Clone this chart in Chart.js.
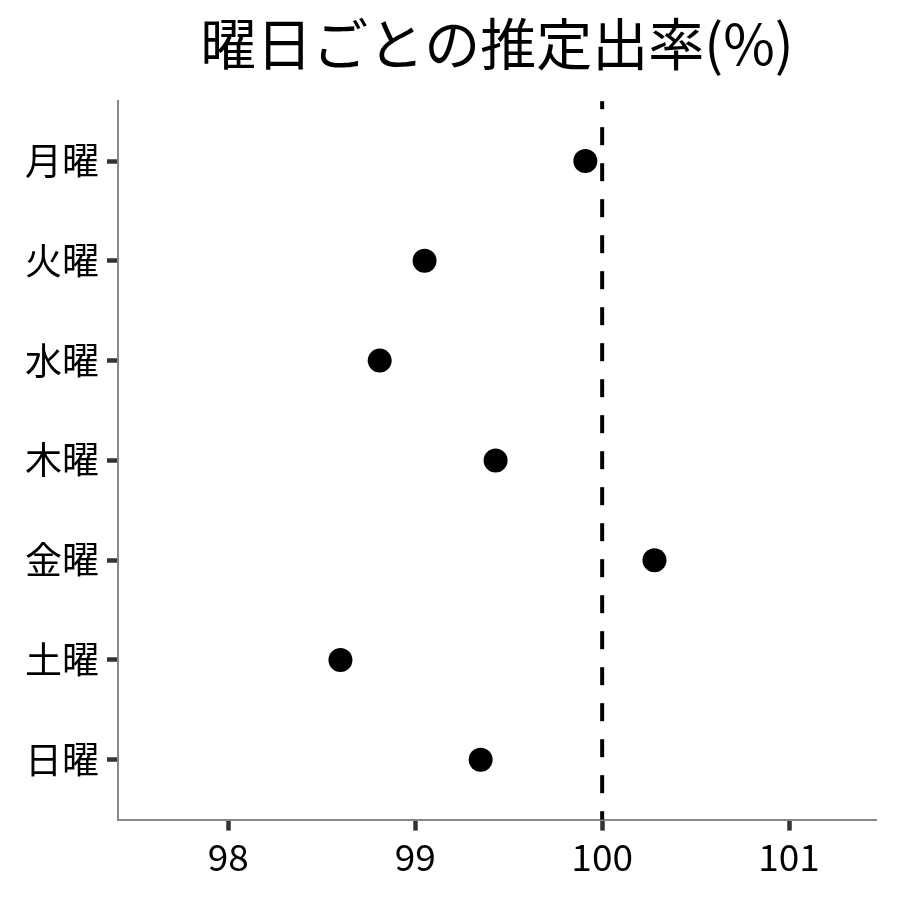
<!DOCTYPE html>
<html>
<head>
<meta charset="utf-8">
<script src="https://cdn.jsdelivr.net/npm/chart.js@4/dist/chart.umd.min.js"></script>
<style>
  html, body { margin: 0; padding: 0; background: #fff; }
  #wrap { width: 900px; height: 900px; }
</style>
</head>
<body>
<div id="wrap"><canvas id="rateChart" width="900" height="900"></canvas></div>
<script>
// data
const days = ["月曜", "火曜", "水曜", "木曜", "金曜", "土曜", "日曜"];
const rates = [99.91, 99.05, 98.81, 99.43, 100.28, 98.60, 99.35];
const xTicks = [98, 99, 100, 101];
const refValue = 100;
const chartTitle = "曜日ごとの推定出率(%)";

const FONT = "'Noto Sans CJK JP', 'Noto Sans', sans-serif";

// dashed reference line at 100
const refLinePlugin = {
  id: "refLine",
  afterDatasetsDraw(chart) {
    const { ctx, chartArea, scales } = chart;
    const x = scales.x.getPixelForValue(refValue);
    ctx.save();
    ctx.strokeStyle = "#000";
    ctx.lineWidth = 4;
    ctx.setLineDash([18, 18]);
    ctx.lineDashOffset = 10;
    ctx.beginPath();
    ctx.moveTo(x, chartArea.top);
    ctx.lineTo(x, chartArea.bottom);
    ctx.stroke();
    ctx.restore();
  },
};

const ctx = document.getElementById("rateChart").getContext("2d");
new Chart(ctx, {
  type: "scatter",
  data: {
    datasets: [
      {
        data: rates.map((v, i) => ({ x: v, y: i })),
        backgroundColor: "#000",
        borderWidth: 0,
        pointRadius: 12,
        pointHoverRadius: 12,
      },
    ],
  },
  options: {
    responsive: false,
    animation: false,
    layout: { padding: { left: 17, right: 24, top: 4, bottom: 17 } },
    plugins: {
      legend: { display: false },
      tooltip: { enabled: false },
      title: {
        display: true,
        text: chartTitle,
        fullSize: false,
        color: "#000",
        font: { family: FONT, size: 56, weight: "normal" },
        padding: { top: 6, bottom: 24 },
      },
    },
    scales: {
      x: {
        type: "linear",
        min: 97.41,
        max: 101.465,
        afterBuildTicks: (s) => { s.ticks = xTicks.map((v) => ({ value: v })); },
        ticks: {
          color: "#000",
          font: { family: FONT, size: 37 },
          padding: 4,
          callback: (v) => String(v),
        },
        grid: { drawOnChartArea: false, tickLength: 11, tickWidth: 4.5, tickColor: "#333" },
        border: { display: true, color: "#888", width: 2 },
      },
      y: {
        type: "linear",
        reverse: true,
        min: -0.6,
        max: 6.6,
        afterBuildTicks: (s) => { s.ticks = days.map((d, i) => ({ value: i })); },
        ticks: {
          color: "#000",
          font: { family: FONT, size: 37 },
          padding: 8,
          callback: (v) => days[v],
        },
        grid: { drawOnChartArea: false, tickLength: 11, tickWidth: 4.5, tickColor: "#333" },
        border: { display: true, color: "#888", width: 2 },
      },
    },
  },
  plugins: [refLinePlugin],
});
</script>
</body>
</html>
